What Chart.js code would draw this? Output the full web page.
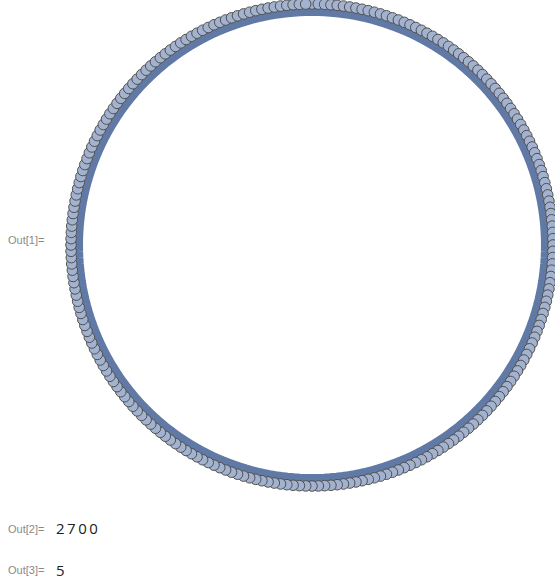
<!DOCTYPE html>
<html>
<head>
<meta charset="utf-8">
<script src="https://cdn.jsdelivr.net/npm/chart.js@4/dist/chart.umd.min.js"></script>
<style>
  html, body { margin: 0; padding: 0; background: #fff; overflow: hidden; width: 555px; height: 583px; }
  #wrap { position: absolute; left: 61px; top: -6px; width: 502px; height: 502px; }
  .lbl { position: absolute; font-family: "Liberation Sans", Arial, sans-serif; font-size: 11px; color: #8a8a8a; }
  .val { position: absolute; font-family: "Open Sans", "DejaVu Sans", sans-serif; font-size: 15px; color: #222; letter-spacing: 2.5px; }
</style>
</head>
<body>
<div class="lbl" style="left:8px; top:234px;">Out[1]=</div>
<div id="wrap"><canvas id="graph" width="502" height="502"></canvas></div>
<div class="lbl" style="left:8px; top:523px;">Out[2]=</div>
<div class="val" id="out2" style="left:56px; top:518px;"></div>
<div class="lbl" style="left:8px; top:564px;">Out[3]=</div>
<div class="val" id="out3" style="left:56px; top:560px;"></div>
<script>
// Graph data: vertices laid out on a circle, edges form the ring inside
const vertexCount = 240;
const vertexIds = Array.from({ length: vertexCount }, (_, i) => i + 1);
const vertexRing = vertexIds.map(() => 1);      // every vertex sits on the layout circle
const edgeRing = vertexIds.map(() => 0.975);    // edges between near neighbours hug the circle

// Other notebook outputs
const edgeCountOut = 2700;
const thirdOut = 5;

document.getElementById("out2").textContent = edgeCountOut;
document.getElementById("out3").textContent = thirdOut;

const ctx = document.getElementById('graph').getContext('2d');
const graphChart = new Chart(ctx, {
    type: 'radar',
    data: {
        labels: vertexIds,
        datasets: [{
            label: 'vertices',
            data: vertexRing,
            showLine: false,
            fill: false,
            backgroundColor: 'transparent',
            borderWidth: 0,
            pointRadius: 5.3,
            pointBackgroundColor: '#a3b3cf',
            pointBorderColor: '#505050',
            pointBorderWidth: 1,
            order: 0
        }, {
            label: 'edges',
            data: edgeRing,
            borderColor: '#6079a5',
            borderWidth: 12,
            backgroundColor: 'transparent',
            fill: false,
            pointRadius: 0,
            order: 1
        }]
    },
    options: {
        responsive: false,
        animation: false,
        devicePixelRatio: 1,
        layout: { padding: 10 },
        plugins: { legend: { display: false }, tooltip: { enabled: false }, filler: { propagate: false } },
        scales: {
            r: {
                min: 0,
                max: 1,
                display: false,
                pointLabels: { display: false },
                ticks: { display: false }
            }
        }
    }
});
</script>
</body>
</html>
